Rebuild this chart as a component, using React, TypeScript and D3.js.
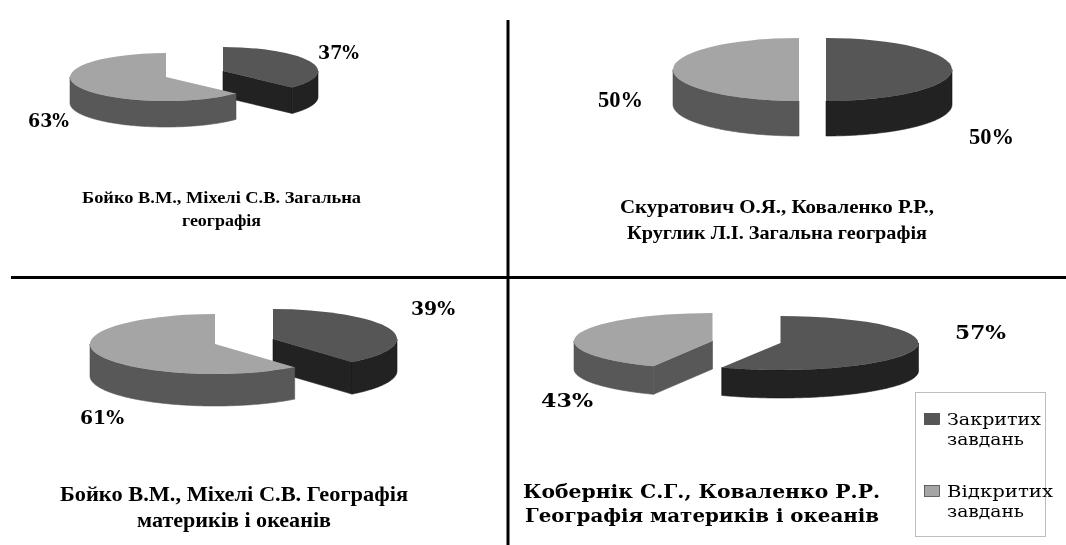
import * as d3 from 'd3';

// values, one entry per panel
const closedShares = [37, 50, 39, 57];
const openShares = [63, 50, 61, 43];
const titles = [
  ['Бойко В.М., Міхелі С.В. Загальна', 'географія'],
  ['Скуратович О.Я., Коваленко Р.Р.,', 'Круглик Л.І. Загальна географія'],
  ['Бойко В.М., Міхелі С.В. Географія', 'материків і океанів'],
  ['Кобернік С.Г., Коваленко Р.Р.', 'Географія материків і океанів'],
];
const legendLabels = [['Закритих', 'завдань'], ['Відкритих', 'завдань']];

const closedColors = { top: '#565656', wall: '#202020' };
const openColors = { top: '#a5a5a5', wall: '#585858' };

const wide = "'DejaVu Serif', serif";
const narrow = "'Liberation Serif', serif";

// layout of every panel: slice centres, ellipse radii, thickness, text spots
const panels = [
  {
    closed: { cx: 223, cy: 71, rx: 95, ry: 24 },
    open: { cx: 166, cy: 77, rx: 96, ry: 24 },
    depth: 26,
    closedLabel: { x: 318, y: 59, w: 41, size: 18, family: wide },
    openLabel: { x: 28, y: 127, w: 41, size: 18, family: wide },
    titleLines: [
      { x: 82, y: 203, w: 279, size: 17, family: narrow },
      { x: 182, y: 226, w: 79, size: 17, family: narrow },
    ],
  },
  {
    closed: { cx: 826, cy: 69.5, rx: 126, ry: 31.5 },
    open: { cx: 799, cy: 69.5, rx: 126, ry: 31.5 },
    depth: 35,
    closedLabel: { x: 969, y: 144, w: 45, size: 23, family: narrow },
    openLabel: { x: 598, y: 107, w: 45, size: 23, family: narrow },
    titleLines: [
      { x: 620, y: 213, w: 314, size: 19, family: narrow },
      { x: 627, y: 239, w: 300, size: 19, family: narrow },
    ],
  },
  {
    closed: { cx: 273, cy: 339, rx: 124, ry: 30 },
    open: { cx: 215, cy: 344, rx: 125, ry: 30 },
    depth: 32,
    closedLabel: { x: 411, y: 315, w: 44, size: 18, family: wide },
    openLabel: { x: 80, y: 424, w: 44, size: 18, family: wide },
    titleLines: [
      { x: 60, y: 501, w: 348, size: 21, family: narrow },
      { x: 137, y: 527, w: 194, size: 21, family: narrow },
    ],
  },
  {
    closed: { cx: 780.5, cy: 343, rx: 138, ry: 27 },
    open: { cx: 712.5, cy: 341, rx: 138.5, ry: 28 },
    depth: 28,
    closedLabel: { x: 955, y: 339, w: 51, size: 18, family: wide },
    openLabel: { x: 541, y: 407, w: 52, size: 18, family: wide },
    titleLines: [
      { x: 523, y: 498, w: 357, size: 18, family: wide },
      { x: 525, y: 522, w: 354, size: 18, family: wide },
    ],
  },
];

const legendBox = { x: 915.5, y: 392.5, w: 130, h: 144 };
const legendRows = [
  { swatchY: 413, lines: [{ y: 425, w: 94 }, { y: 445, w: 77 }] },
  { swatchY: 485, lines: [{ y: 497, w: 106 }, { y: 517, w: 77 }] },
];

const pie = d3.pie<number>().sort(null).value((d) => d);
const unitArc = d3.arc<d3.PieArcDatum<number>>().innerRadius(0).outerRadius(1);
const linePath = d3.line();

function Slice({ geom, arc, depth, colors }: any) {
  const { cx, cy, rx, ry } = geom;
  const px = (a: number): [number, number] => [cx + rx * Math.sin(a), cy - ry * Math.cos(a)];
  const down = (p: [number, number]): [number, number] => [p[0], p[1] + depth];

  // only cut faces turned towards the viewer get drawn
  const visibleCuts: number[] = [];
  if (Math.sin(arc.startAngle) < -1e-6) visibleCuts.push(arc.startAngle);
  if (Math.sin(arc.endAngle) > 1e-6) visibleCuts.push(arc.endAngle);
  const cuts = visibleCuts.map((a) => {
    const apex: [number, number] = [cx, cy];
    const rim = px(a);
    return linePath([apex, rim, down(rim), down(apex)]) + 'Z';
  });

  // rim wall is only visible on the front half of the ellipse
  const from = Math.max(arc.startAngle, Math.PI / 2);
  const to = Math.min(arc.endAngle, (3 * Math.PI) / 2);
  let rimWall = '';
  if (to > from) {
    const rim = d3.range(from, to, 0.02).concat(to).map(px);
    rimWall = linePath([...rim, ...rim.slice().reverse().map(down)]) + 'Z';
  }

  return (
    <g>
      {/* thin stroke closes the seam between the wall pieces */}
      {cuts.map((d: string, i: number) => (
        <path key={i} d={d} fill={colors.wall} stroke={colors.wall} strokeWidth={0.6} />
      ))}
      {rimWall && <path d={rimWall} fill={colors.wall} stroke={colors.wall} strokeWidth={0.6} />}
      <path
        d={unitArc(arc) as string}
        fill={colors.top}
        transform={`translate(${cx},${cy}) scale(${rx},${ry})`}
      />
    </g>
  );
}

function FitText({ spot, children, weight = 'bold' }: any) {
  return (
    <text
      x={spot.x}
      y={spot.y}
      fontSize={spot.size}
      fontFamily={spot.family}
      fontWeight={weight}
      fill="#000"
      textLength={spot.w}
      lengthAdjust="spacingAndGlyphs"
    >
      {children}
    </text>
  );
}

export default function App() {
  return (
    <svg width={1066} height={545} style={{ position: 'absolute', left: 0, top: 0, display: 'block' }}>
      <defs>
        {/* the reference is a soft scan, edges are slightly blurred */}
        <filter id="soft" x="0" y="0" width="100%" height="100%" filterUnits="userSpaceOnUse">
          <feGaussianBlur stdDeviation={0.4} />
        </filter>
      </defs>
      <rect width={1066} height={545} fill="#fff" />

      <g filter="url(#soft)">
        {panels.map((panel, i) => {
          const [closedArc, openArc] = pie([closedShares[i], openShares[i]]);
          return (
            <g key={i}>
              <Slice geom={panel.closed} arc={closedArc} depth={panel.depth} colors={closedColors} />
              <Slice geom={panel.open} arc={openArc} depth={panel.depth} colors={openColors} />
              <FitText spot={panel.closedLabel}>{closedShares[i]}%</FitText>
              <FitText spot={panel.openLabel}>{openShares[i]}%</FitText>
              {titles[i].map((line, j) => (
                <FitText key={j} spot={panel.titleLines[j]}>{line}</FitText>
              ))}
            </g>
          );
        })}

        <rect {...{ x: legendBox.x, y: legendBox.y, width: legendBox.w, height: legendBox.h }} fill="#fff" stroke="#bdbdbd" />
        {legendRows.map((row, i) => (
          <g key={i}>
            <rect
              x={924.5}
              y={row.swatchY + 0.5}
              width={15}
              height={11}
              fill={i === 0 ? closedColors.top : openColors.top}
              stroke="#333"
              strokeWidth={0.7}
            />
            {legendLabels[i].map((line, j) => (
              <FitText
                key={j}
                weight="normal"
                spot={{ x: 947, y: row.lines[j].y, w: row.lines[j].w, size: 16, family: wide }}
              >
                {line}
              </FitText>
            ))}
          </g>
        ))}
      </g>

      <line x1={508} x2={508} y1={20} y2={545} stroke="#000" strokeWidth={3} />
      <line x1={11} x2={1066} y1={277.5} y2={277.5} stroke="#000" strokeWidth={3} />
    </svg>
  );
}
